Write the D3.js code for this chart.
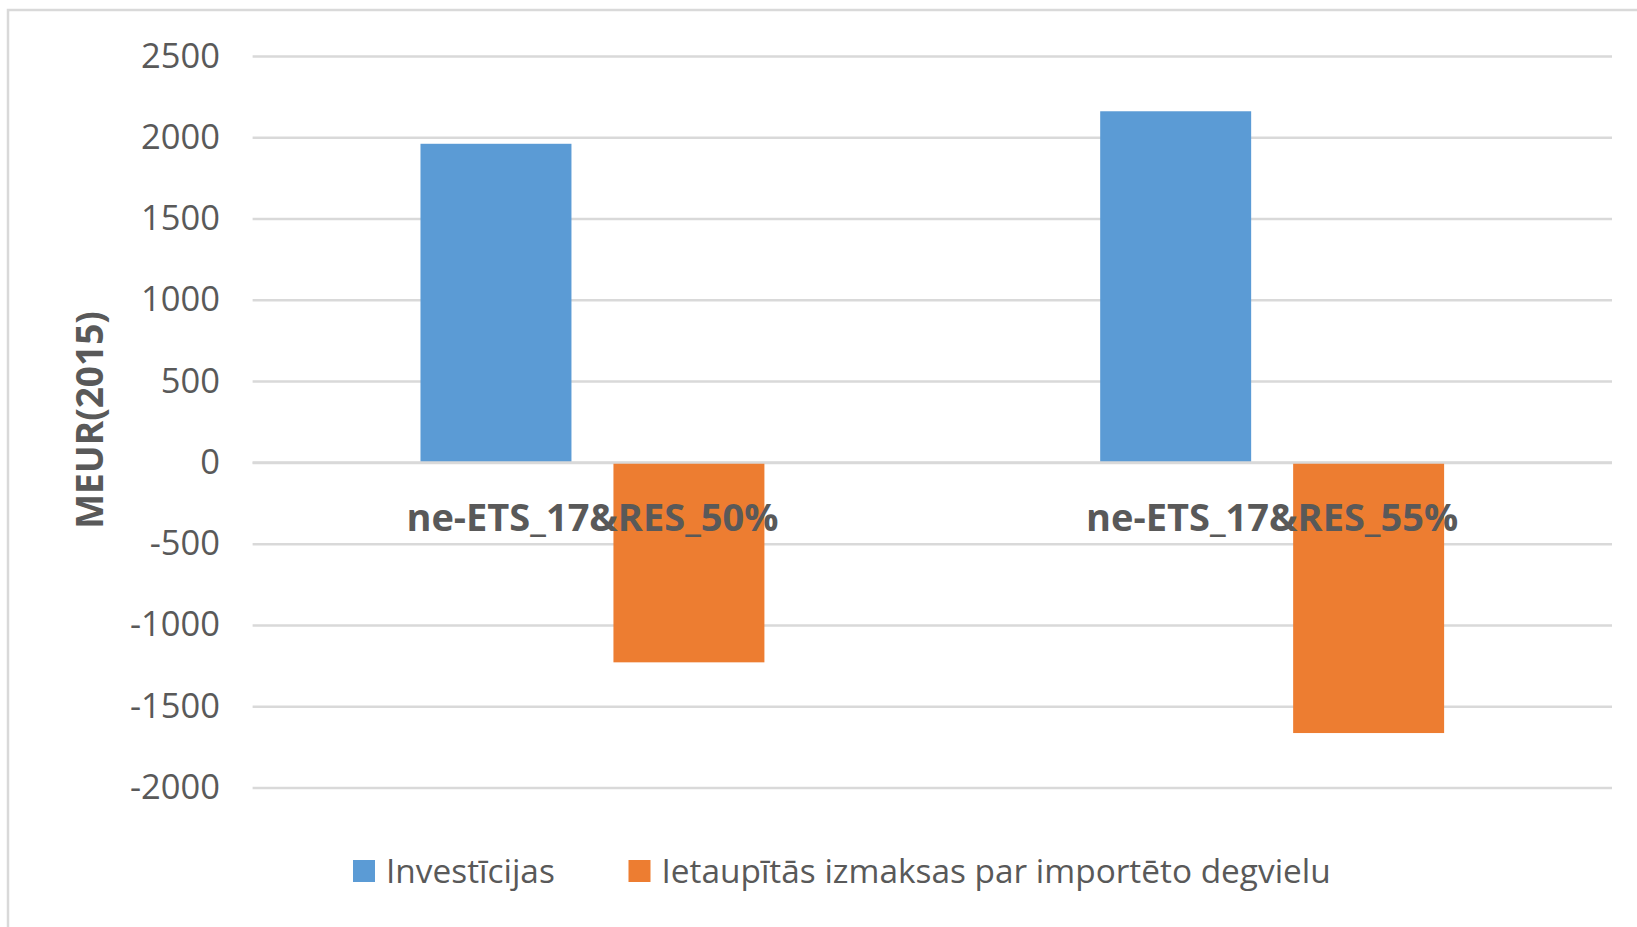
<!doctype html>
<html>
<head>
<meta charset="utf-8">
<script src="https://cdnjs.cloudflare.com/ajax/libs/d3/7.8.5/d3.min.js"></script>
<style>
body { margin: 0; background: #fff; }
svg { display: block; font-family: "Open Sans", sans-serif; }
</style>
</head>
<body>
<svg id="chart" width="1637" height="927"></svg>
<script>
// chart data
var categories = ["ne-ETS_17&RES_50%", "ne-ETS_17&RES_55%"];
var seriesNames = ["Investīcijas", "Ietaupītās izmaksas par importēto degvielu"];
var investicijas = [1960, 2160];
var ietaupitas = [-1230, -1665];
var yTicks = [-2000, -1500, -1000, -500, 0, 500, 1000, 1500, 2000, 2500];
var colors = ["#5B9BD5", "#ED7D31"];

var rows = categories.map((c, i) => ({cat: c, vals: [investicijas[i], ietaupitas[i]]}));

var svg = d3.select("#chart");
var plotL = 252.6, plotR = 1612, plotT = 56, plotB = 787.5;

// chart border
svg.append("rect")
  .attr("x", 8).attr("y", 10)
  .attr("width", 1700).attr("height", 1000)
  .attr("fill", "none").attr("stroke", "#d9d9d9").attr("stroke-width", 2.5);

var y = d3.scaleLinear().domain([-2000, 2500]).range([plotB, plotT]);
var x0 = d3.scaleBand().domain(categories).range([plotL, plotR])
  .paddingInner(0.494).paddingOuter(0.247);
var x1 = d3.scaleBand().domain(seriesNames).range([0, x0.bandwidth()])
  .paddingInner(0.2176).paddingOuter(0);

// gridlines
var grid = svg.append("g").attr("transform", "translate(" + plotL + ",0)")
  .call(d3.axisLeft(y).tickValues(yTicks).tickSize(-(plotR - plotL)).tickFormat(""));
grid.select(".domain").remove();
grid.selectAll("line").attr("stroke", "#d9d9d9").attr("stroke-width", 2.5);

// tick labels
var yAxis = svg.append("g").attr("transform", "translate(220,0)")
  .call(d3.axisLeft(y).tickValues(yTicks).tickSize(0).tickPadding(0).tickFormat(d => String(d)));
yAxis.select(".domain").remove();
yAxis.selectAll("text")
  .attr("fill", "#595959")
  .style("font-family", "'Open Sans', sans-serif")
  .style("font-size", "34.5px");

// bars
var groups = svg.selectAll(".grp").data(rows).enter().append("g")
  .attr("transform", d => "translate(" + x0(d.cat) + ",0)");
groups.selectAll("rect")
  .data(d => d.vals.map((v, i) => ({name: seriesNames[i], v: v, i: i})))
  .enter().append("rect")
  .attr("x", d => x1(d.name))
  .attr("width", x1.bandwidth())
  .attr("y", d => y(Math.max(0, d.v)))
  .attr("height", d => Math.abs(y(d.v) - y(0)))
  .attr("fill", d => colors[d.i]);

// zero line on top
svg.append("line")
  .attr("x1", plotL).attr("x2", plotR)
  .attr("y1", y(0)).attr("y2", y(0))
  .attr("stroke", "#d9d9d9").attr("stroke-width", 2.5);

// category labels
svg.selectAll(".cat").data(categories).enter().append("text")
  .attr("x", d => x0(d) + x0.bandwidth() / 2)
  .attr("y", 531)
  .attr("text-anchor", "middle")
  .attr("fill", "#595959")
  .style("font-size", "38px")
  .style("font-weight", "bold")
  .text(d => d);

// y title
svg.append("text")
  .attr("transform", "translate(103,420) rotate(-90)")
  .attr("text-anchor", "middle")
  .attr("fill", "#595959")
  .style("font-size", "37px")
  .style("font-weight", "bold")
  .text("MEUR(2015)");

// legend
var legX = [353, 628.5];
var leg = svg.selectAll(".leg").data(seriesNames).enter().append("g")
  .attr("transform", (d, i) => "translate(" + legX[i] + ",860)");
leg.append("rect").attr("width", 22).attr("height", 22).attr("fill", (d, i) => colors[i]);
leg.append("text")
  .attr("x", 33).attr("y", 11).attr("dy", "0.36em")
  .attr("fill", "#595959")
  .style("font-size", "33.4px")
  .text(d => d);
</script>
</body>
</html>
